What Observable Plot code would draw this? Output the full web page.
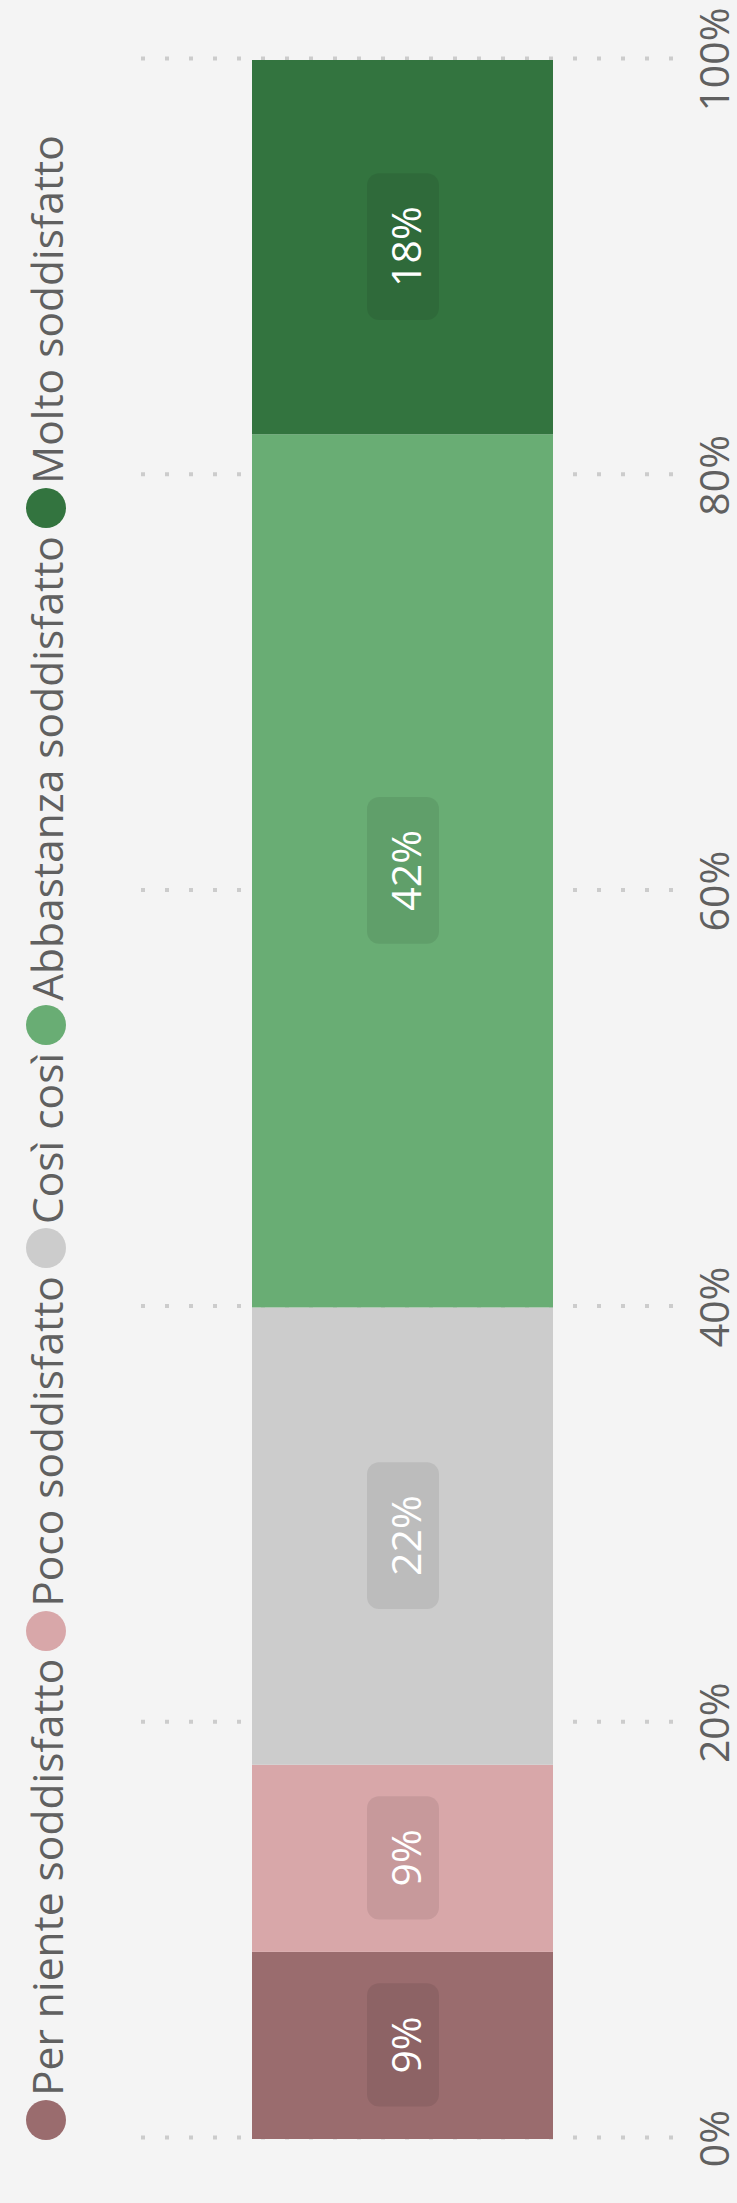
<!DOCTYPE html>
<html>
<head>
<meta charset="utf-8">
<script src="https://cdn.jsdelivr.net/npm/d3@7"></script>
<script src="https://cdn.jsdelivr.net/npm/@observablehq/plot@0.6"></script>
<style>
  html, body { margin: 0; padding: 0; background: #f4f4f4; }
  #wrap { position: relative; width: 737px; height: 2203px; overflow: hidden; }
  #legend {
    position: absolute; left: 0; top: 0;
    transform-origin: 0 0;
    transform: translate(23px, 2140px) rotate(-90deg);
    display: flex; align-items: center; height: 46px; white-space: nowrap;
    font-family: "Open Sans", sans-serif; font-size: 42.5px; color: #606060;
  }
  #legend .sw { width: 40px; height: 40px; border-radius: 50%; flex: none; }
  #legend .lab { margin-left: 4px; margin-right: 8px; }
</style>
</head>
<body>
<div id="wrap"><div id="legend"></div></div>
<script>
const categories = ["Per niente soddisfatto", "Poco soddisfatto", "Così così", "Abbastanza soddisfatto", "Molto soddisfatto"];
const values = [9, 9, 22, 42, 18];
const colors = ["#9a6c6e", "#d8a7a9", "#cccccc", "#69ad74", "#33743f"];
const tickValues = [0, 20, 40, 60, 80, 100];
const groups = ["Totale"];

const data = categories.map((c, i) => ({group: groups[0], category: c, value: values[i]}));

const wrap = document.getElementById("wrap");
const legend = document.getElementById("legend");
categories.forEach((c, i) => {
  const sw = document.createElement("span");
  sw.className = "sw";
  sw.style.background = colors[i];
  const lab = document.createElement("span");
  lab.className = "lab";
  lab.textContent = c;
  legend.appendChild(sw);
  legend.appendChild(lab);
});

const labelDx = 5;

const chart = Plot.plot({
  width: 737,
  height: 2203,
  marginLeft: 141,
  marginRight: 64,
  marginTop: 59,
  marginBottom: 65,
  style: {background: "transparent", fontFamily: "Open Sans, sans-serif"},
  x: {type: "band", domain: groups, paddingInner: 0, paddingOuter: 0.3837, align: 0.4805, axis: null},
  y: {domain: [0, 100], axis: null},
  color: {domain: categories, range: colors},
  marks: [
    Plot.ruleY(tickValues, {stroke: "#cccccc", strokeWidth: 4, strokeDasharray: "4,20", dy: -1}),
    Plot.barY(data, {x: "group", y: "value", fill: "category", dy: 1}),
    Plot.text(data, Plot.stackY({
      x: "group", y: "value",
      text: d => `${d.value}%`,
      rotate: -90, fill: "white", fontSize: 41, lineAnchor: "middle", textAnchor: "middle", dx: labelDx
    })),
    Plot.text(tickValues, {
      y: d => d, text: d => `${d}%`,
      frameAnchor: "right", textAnchor: "middle", rotate: -90, fill: "#606060", fontSize: 41,
      lineAnchor: "middle", dx: 42
    })
  ]
});
chart.style.position = "absolute";
chart.style.left = "0";
chart.style.top = "0";
wrap.insertBefore(chart, legend);

// rounded boxes behind the value labels, sized from each label's own text
const svgNS = "http://www.w3.org/2000/svg";
const labelG = chart.querySelector('g[fill="white"]');
if (labelG) {
  const boxG = document.createElementNS(svgNS, "g");
  const gt = labelG.getAttribute("transform");
  if (gt) boxG.setAttribute("transform", gt);
  labelG.parentNode.insertBefore(boxG, labelG);
  labelG.querySelectorAll("text").forEach(t => {
    const w = t.getComputedTextLength();
    const r = document.createElementNS(svgNS, "rect");
    r.setAttribute("x", -w / 2 - 33);
    r.setAttribute("y", -36 - labelDx);
    r.setAttribute("width", w + 66);
    r.setAttribute("height", 72);
    r.setAttribute("rx", 12);
    r.setAttribute("fill", "#000");
    r.setAttribute("fill-opacity", 0.08);
    r.setAttribute("transform", t.getAttribute("transform"));
    boxG.appendChild(r);
  });
}
</script>
</body>
</html>
